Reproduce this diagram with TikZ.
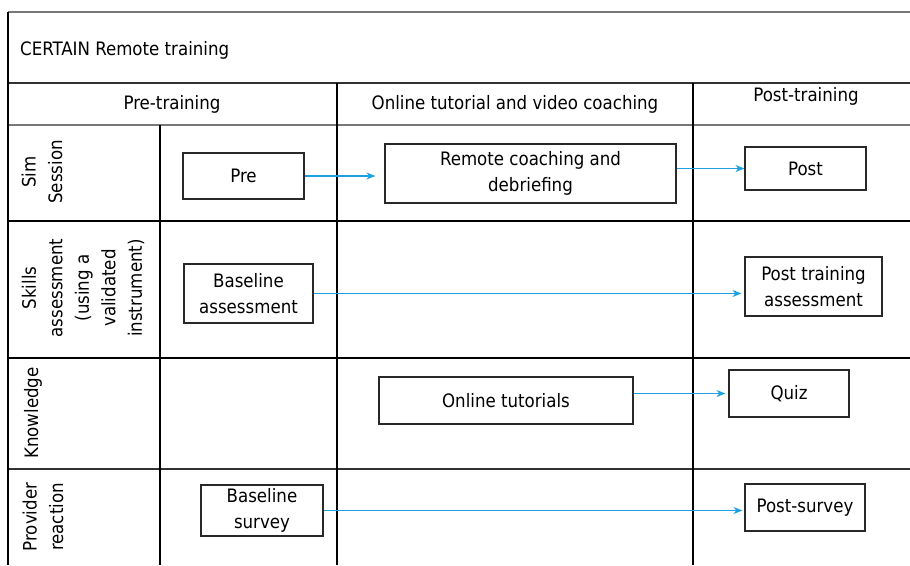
\documentclass[tikz,border=0pt]{standalone}
\usepackage{fontspec}
\setmainfont{DejaVu Sans Condensed}
\usetikzlibrary{arrows.meta}
\definecolor{arrowblue}{RGB}{27,161,226}
\definecolor{gridgray}{RGB}{120,120,120}
\definecolor{griddark}{RGB}{50,50,50}
\definecolor{boxedge}{RGB}{40,40,40}
\newcommand{\dgfont}{\fontsize{18.5}{26.5}\selectfont}
\tikzset{
  gridline/.style={line width=1.4pt, black},
  grayline/.style={line width=1.6pt, gridgray},
  procbox/.style={draw=boxedge, line width=1.2pt, inner sep=0pt, align=center, font=\dgfont},
  plaintext/.style={inner sep=0pt, align=center, font=\dgfont},
  rowlabel/.style={inner sep=0pt, align=center, rotate=90, font=\dgfont},
  flow/.style={draw=arrowblue, line width=1.1pt, -{Stealth[length=9pt,width=7pt]}}
}
\begin{document}
\begin{tikzpicture}[x=1pt,y=-1pt]
\useasboundingbox (0,0) rectangle (910,565);
% grid
\draw[grayline] (8,12) -- (910,12);
\draw[line width=1.4pt, griddark] (8,83) -- (910,83);
\draw[grayline] (8,125) -- (910,125);
\draw[gridline] (8,221) -- (910,221);
\draw[gridline] (8,358) -- (910,358);
\draw[line width=1.4pt, griddark] (8,469) -- (910,469);
\draw[gridline] (8,12) -- (8,565);
\draw[gridline] (160,125) -- (160,565);
\draw[gridline] (337,83) -- (337,565);
\draw[gridline] (693,83) -- (693,565);
% title and headers
\node[plaintext, anchor=west] (title) at (20,50) {CERTAIN Remote training};
\node[plaintext] (hpre) at (172,104) {Pre-training};
\node[plaintext] (honline) at (515,104) {Online tutorial and video coaching};
\node[plaintext] (hpost) at (806,96) {Post-training};
% row labels
\node[rowlabel] (lsim) at (42,172) {Sim\\Session};
\node[rowlabel] (lskills) at (83,288) {Skills\\assessment\\(using a\\validated\\instrument)};
\node[rowlabel] (lknow) at (33,413) {Knowledge};
\node[rowlabel] (lprov) at (43,517) {Provider\\reaction};
% boxes
\node[procbox, minimum width=121pt, minimum height=46pt] (pre) at (243.5,176) {Pre};
\node[procbox, minimum width=291pt, minimum height=59pt] (remote) at (530.5,173.5) {Remote coaching and\\debriefing};
\node[procbox, minimum width=121pt, minimum height=43pt] (post) at (805.5,168.5) {Post};
\node[procbox, minimum width=129pt, minimum height=59pt] (basea) at (248.5,293.5) {Baseline\\assessment};
\node[procbox, minimum width=137pt, minimum height=59pt] (posta) at (813.5,286.5) {Post training\\assessment};
\node[procbox, minimum width=254pt, minimum height=47pt] (online) at (506,400.5) {Online tutorials};
\node[procbox, minimum width=120pt, minimum height=47pt] (quiz) at (789,393.5) {Quiz};
\node[procbox, minimum width=122pt, minimum height=51pt] (bases) at (262,510.5) {Baseline\\survey};
\node[procbox, minimum width=120pt, minimum height=47pt] (posts) at (805,507.5) {Post-survey};
% arrows
\draw[flow, shorten >=9pt] (pre.east) -- (pre.east -| remote.west);
\draw[flow] (remote.east |- post.west) -- (post.west);
\draw[flow, shorten >=3pt] (basea.east) -- (basea.east -| posta.west);
\draw[flow, shorten >=3pt] (online.east |- quiz.west) -- (quiz.west);
\draw[flow, shorten >=2pt] (bases.east) -- (bases.east -| posts.west);
\end{tikzpicture}
\end{document}
